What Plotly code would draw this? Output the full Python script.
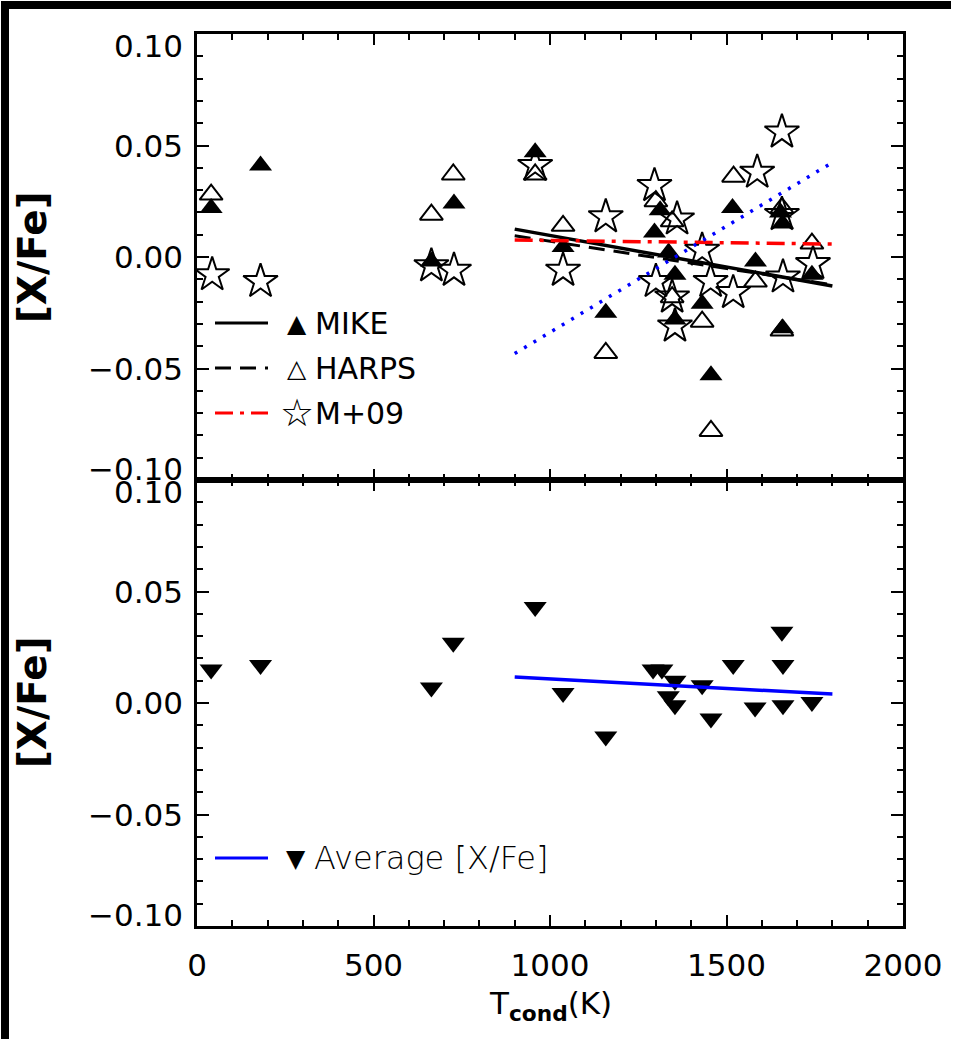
import plotly.graph_objects as go

# ---------------- data ----------------
mike_t = [40, 180, 664, 728, 958, 1037, 1158, 1296, 1312, 1336, 1354, 1354, 1431, 1456, 1517, 1582, 1653, 1659, 1659, 1742]
mike_v = [0.022, 0.041, -0.002, 0.024, 0.047, 0.0045, -0.025, 0.011, 0.021, 0.002, -0.008, -0.028, -0.021, -0.053, 0.022, -0.002, 0.020, 0.015, -0.032, -0.008]

harps_t = [40, 664, 726, 958, 1037, 1158, 1300, 1346, 1346, 1431, 1456, 1520, 1582, 1657, 1657, 1742]
harps_v = [0.028, 0.019, 0.037, 0.037, 0.014, -0.043, 0.025, 0.016, -0.018, -0.029, -0.078, 0.036, -0.011, 0.022, -0.033, 0.006]

m09_t = [43, 180, 664, 728, 958, 1037, 1158, 1296, 1300, 1346, 1354, 1360, 1431, 1455, 1519, 1587, 1657, 1657, 1660, 1745]
m09_v = [-0.008, -0.011, -0.004, -0.006, 0.041, -0.006, 0.018, 0.032, -0.011, -0.018, -0.031, 0.017, 0.003, -0.011, -0.016, 0.038, 0.056, 0.019, -0.009, -0.003]

avg_t = [40, 180, 664, 726, 958, 1037, 1158, 1292, 1317, 1354, 1335, 1354, 1431, 1456, 1519, 1581, 1657, 1660, 1660, 1742]
avg_v = [0.015, 0.017, 0.007, 0.027, 0.043, 0.0045, -0.015, 0.015, 0.015, 0.010, 0.003, -0.001, 0.008, -0.007, 0.017, -0.002, 0.032, 0.017, -0.001, 0.0005]

fit_t = [900, 1800]
mike_fit = [0.0125, -0.013]
harps_fit = [0.0095, -0.0125]
m09_fit = [0.0076, 0.0058]
blue_fit = [-0.0433, 0.0424]
avg_fit = [0.0117, 0.0040]

y_ticks = [0.10, 0.05, 0.00, -0.05, -0.10]
y_tick_text = ["0.10", "0.05", "0.00", "\u22120.05", "\u22120.10"]
x_ticks = [0, 500, 1000, 1500, 2000]
x_tick_text = ["0", "500", "1000", "1500", "2000"]

# ---------------- layout geometry ----------------
W, H = 953, 1041
L, R, T, B = 197, 50, 34, 115
PW, PH = W - L - R, H - T - B
FONT = "DejaVu Sans"


def px(x):
    return (x - L) / PW


def py(y):
    return 1 - (y - T) / PH


fig = go.Figure()

# top panel markers
fig.add_trace(go.Scatter(x=mike_t, y=mike_v, mode="markers", xaxis="x", yaxis="y",
                         marker=dict(symbol="triangle-up", size=20, color="black",
                                     line=dict(width=0))))
fig.add_trace(go.Scatter(x=harps_t, y=harps_v, mode="markers", xaxis="x", yaxis="y",
                         marker=dict(symbol="triangle-up-open", size=20, color="black",
                                     line=dict(width=2, color="black"))))
fig.add_trace(go.Scatter(x=m09_t, y=m09_v, mode="markers", xaxis="x", yaxis="y",
                         marker=dict(symbol="star-open", size=26, color="black",
                                     line=dict(width=2, color="black"))))
# top panel fits
fig.add_trace(go.Scatter(x=fit_t, y=mike_fit, mode="lines", xaxis="x", yaxis="y",
                         line=dict(color="black", width=3.5)))
fig.add_trace(go.Scatter(x=fit_t, y=harps_fit, mode="lines", xaxis="x", yaxis="y",
                         line=dict(color="black", width=3, dash="16px,9px")))
fig.add_trace(go.Scatter(x=fit_t, y=m09_fit, mode="lines", xaxis="x", yaxis="y",
                         line=dict(color="#ff0000", width=3.5, dash="18px,7px,4px,7px")))
fig.add_trace(go.Scatter(x=fit_t, y=blue_fit, mode="lines", xaxis="x", yaxis="y",
                         line=dict(color="#0000ff", width=3.5, dash="3px,8px")))

# bottom panel
fig.add_trace(go.Scatter(x=avg_t, y=avg_v, mode="markers", xaxis="x2", yaxis="y2",
                         marker=dict(symbol="triangle-down", size=20, color="black",
                                     line=dict(width=0))))
fig.add_trace(go.Scatter(x=fit_t, y=avg_fit, mode="lines", xaxis="x2", yaxis="y2",
                         line=dict(color="#0000ff", width=3.5)))

axis_common = dict(showgrid=False, zeroline=False, showline=True, linewidth=2.5,
                   linecolor="black", ticks="inside", mirror="allticks",
                   tickwidth=2, tickcolor="black")

fig.update_layout(
    width=W, height=H,
    margin=dict(l=L, r=R, t=T, b=B),
    paper_bgcolor="white", plot_bgcolor="white",
    showlegend=False,
    font=dict(family=FONT, size=31, color="black"),
    xaxis=dict(domain=[0, 1], range=[0, 2000], anchor="y", tickvals=x_ticks,
               showticklabels=False, ticklen=11,
               minor=dict(dtick=100, tick0=0, ticklen=6, ticks="inside", tickwidth=2, tickcolor="black"),
               **axis_common),
    yaxis=dict(domain=[0.5, 1], range=[-0.1, 0.1], anchor="x", tickvals=y_ticks,
               showticklabels=False, ticklen=12,
               minor=dict(dtick=0.01, tick0=0, ticklen=6, ticks="inside", tickwidth=2, tickcolor="black"),
               **axis_common),
    xaxis2=dict(domain=[0, 1], range=[0, 2000], anchor="y2", tickvals=x_ticks,
                ticktext=x_tick_text, showticklabels=True, ticklen=11,
                ticklabelstandoff=10,
                tickfont=dict(family=FONT, size=31, color="black"),
                minor=dict(dtick=100, tick0=0, ticklen=6, ticks="inside", tickwidth=2, tickcolor="black"),
                **axis_common),
    yaxis2=dict(domain=[0, 0.5], range=[-0.1, 0.1], anchor="x2", tickvals=y_ticks,
                showticklabels=False, ticklen=12,
                minor=dict(dtick=0.01, tick0=0, ticklen=6, ticks="inside", tickwidth=2, tickcolor="black"),
                **axis_common),
)

ann = []
# y tick labels as text (IDL style: extremes nudged inward)
for yref in ["y", "y2"]:
    for v, s in zip(y_ticks, y_tick_text):
        shift = -12 if v == 0.10 else (11 if v == -0.10 else 0)
        ann.append(dict(x=0, xref="paper", y=v, yref=yref, text=s, showarrow=False,
                        xanchor="right", yanchor="middle", xshift=-12, yshift=shift,
                        font=dict(family=FONT, size=31, color="black")))

# y-axis titles
for yc in [258, 703]:
    ann.append(dict(x=px(32), xref="paper", y=py(yc), yref="paper", text="[X/Fe]",
                    textangle=-90, showarrow=False, xanchor="center", yanchor="middle",
                    font=dict(family=FONT, size=39, color="black", weight="bold")))

# x-axis title
ann.append(dict(x=px(550), xref="paper", y=py(1005), yref="paper",
                text="T<sub><b>cond</b></sub>(K)", showarrow=False,
                xanchor="center", yanchor="middle",
                font=dict(family=FONT, size=31, color="black")))

# legends
leg_top = [("\u25B2", "MIKE", 323, 25), ("\u25B3", "HARPS", 368, 25), ("\u2606", "M+09", 413, 38)]
for g, t, yy, gs in leg_top:
    ann.append(dict(x=px(297), xref="paper", y=py(yy), yref="paper", text=g,
                    showarrow=False, xanchor="center", yanchor="middle",
                    font=dict(family=FONT, size=gs, color="black")))
    ann.append(dict(x=px(313), xref="paper", y=py(yy), yref="paper", text=t,
                    showarrow=False, xanchor="left", yanchor="middle",
                    font=dict(family=FONT, size=30, color="black")))
ann.append(dict(x=px(296), xref="paper", y=py(858), yref="paper", text="\u25BC",
                showarrow=False, xanchor="center", yanchor="middle",
                font=dict(family=FONT, size=25, color="black")))
ann.append(dict(x=px(312), xref="paper", y=py(858), yref="paper", text="Average [X/Fe]",
                showarrow=False, xanchor="left", yanchor="middle",
                font=dict(family=FONT, size=32, color="black", weight=200)))
fig.update_layout(annotations=ann)

shapes = []
legend_lines = [(323, "black", "solid"), (368, "black", "16px,9px"),
                (413, "#ff0000", "18px,7px,4px,7px"), (858, "#0000ff", "solid")]
for yy, c, d in legend_lines:
    shapes.append(dict(type="line", xref="paper", yref="paper", x0=px(215), x1=px(268),
                       y0=py(yy), y1=py(yy), line=dict(color=c, width=3, dash=d)))
# dark border strips along the top and left edges of the source image
shapes.append(dict(type="rect", xref="paper", yref="paper", x0=px(1), x1=px(W - 2),
                   y0=py(1), y1=py(9), fillcolor="black", line=dict(width=0), layer="above"))
shapes.append(dict(type="rect", xref="paper", yref="paper", x0=px(1), x1=px(9),
                   y0=py(1), y1=py(H - 2), fillcolor="black", line=dict(width=0), layer="above"))
fig.update_layout(shapes=shapes)

fig.write_html("out.html")
